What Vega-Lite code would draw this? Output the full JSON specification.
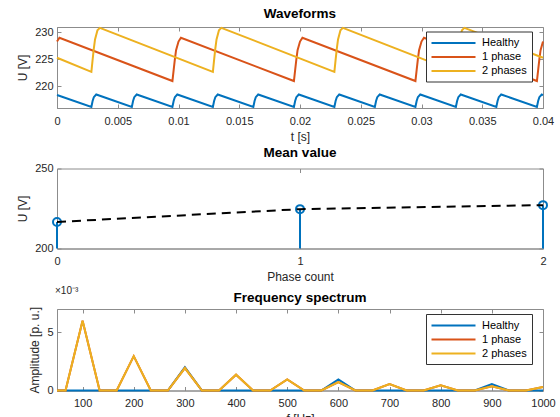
{
  "$schema": "https://vega.github.io/schema/vega-lite/v6.json",
  "padding": {"left": 16, "top": 6, "right": 0, "bottom": 0},
  "bounds": "flush",
  "spacing": 60.5,
  "resolve": {"scale": {"color": "independent"}, "legend": {"color": "independent"}},
  "config": {
    "font": "Liberation Sans",
    "view": {"stroke": "#8c8c8c", "strokeWidth": 1},
    "axis": {"grid": false, "tickSize": -4, "labelPadding": 11, "titlePadding": 5, "labelFontSize": 11, "titleFontSize": 12, "titleFontWeight": "normal", "labelColor": "#262626", "titleColor": "#262626", "domainColor": "#8c8c8c", "tickColor": "#8c8c8c", "labelFlush": false, "labelOverlap": false},
    "axisY": {"labelPadding": 8},
    "title": {"fontSize": 13.5, "fontWeight": "bold", "color": "#000000", "offset": 3},
    "legend": {"labelFontSize": 11, "labelColor": "#000000", "labelAlign": "left", "strokeColor": "#333333", "fillColor": "#ffffff", "padding": 5, "rowPadding": 2}
  },
  "vconcat": [
    {
      "width": 486, "height": 81,
      "title": "Waveforms",
      "data": {"values": [
        {"s":"Healthy","t":0,"U":218.4},
        {"s":"Healthy","t":0.00283,"U":216.2},{"s":"Healthy","t":0.00293,"U":217.3},{"s":"Healthy","t":0.00303,"U":218.0},{"s":"Healthy","t":0.00323,"U":218.5},
        {"s":"Healthy","t":0.00616,"U":216.2},{"s":"Healthy","t":0.00626,"U":217.3},{"s":"Healthy","t":0.00636,"U":218.0},{"s":"Healthy","t":0.00656,"U":218.5},
        {"s":"Healthy","t":0.0095,"U":216.2},{"s":"Healthy","t":0.0096,"U":217.3},{"s":"Healthy","t":0.0097,"U":218.0},{"s":"Healthy","t":0.0099,"U":218.5},
        {"s":"Healthy","t":0.01283,"U":216.2},{"s":"Healthy","t":0.01293,"U":217.3},{"s":"Healthy","t":0.01303,"U":218.0},{"s":"Healthy","t":0.01323,"U":218.5},
        {"s":"Healthy","t":0.01616,"U":216.2},{"s":"Healthy","t":0.01626,"U":217.3},{"s":"Healthy","t":0.01636,"U":218.0},{"s":"Healthy","t":0.01656,"U":218.5},
        {"s":"Healthy","t":0.0195,"U":216.2},{"s":"Healthy","t":0.0196,"U":217.3},{"s":"Healthy","t":0.0197,"U":218.0},{"s":"Healthy","t":0.0199,"U":218.5},
        {"s":"Healthy","t":0.02283,"U":216.2},{"s":"Healthy","t":0.02293,"U":217.3},{"s":"Healthy","t":0.02303,"U":218.0},{"s":"Healthy","t":0.02323,"U":218.5},
        {"s":"Healthy","t":0.02616,"U":216.2},{"s":"Healthy","t":0.02626,"U":217.3},{"s":"Healthy","t":0.02636,"U":218.0},{"s":"Healthy","t":0.02656,"U":218.5},
        {"s":"Healthy","t":0.0295,"U":216.2},{"s":"Healthy","t":0.0296,"U":217.3},{"s":"Healthy","t":0.0297,"U":218.0},{"s":"Healthy","t":0.0299,"U":218.5},
        {"s":"Healthy","t":0.03283,"U":216.2},{"s":"Healthy","t":0.03293,"U":217.3},{"s":"Healthy","t":0.03303,"U":218.0},{"s":"Healthy","t":0.03323,"U":218.5},
        {"s":"Healthy","t":0.03616,"U":216.2},{"s":"Healthy","t":0.03626,"U":217.3},{"s":"Healthy","t":0.03636,"U":218.0},{"s":"Healthy","t":0.03656,"U":218.5},
        {"s":"Healthy","t":0.0395,"U":216.2},{"s":"Healthy","t":0.0396,"U":217.3},{"s":"Healthy","t":0.0397,"U":218.0},{"s":"Healthy","t":0.0399,"U":218.5},
        {"s":"Healthy","t":0.04,"U":218.4},
        {"s":"1 phase","t":0,"U":228.3},{"s":"1 phase","t":0.0002,"U":229.0},
        {"s":"1 phase","t":0.0095,"U":221.0},{"s":"1 phase","t":0.0096,"U":223.0},{"s":"1 phase","t":0.0097,"U":225.0},{"s":"1 phase","t":0.0098,"U":226.7},{"s":"1 phase","t":0.01,"U":228.3},{"s":"1 phase","t":0.0102,"U":229.0},
        {"s":"1 phase","t":0.0195,"U":221.0},{"s":"1 phase","t":0.0196,"U":223.0},{"s":"1 phase","t":0.0197,"U":225.0},{"s":"1 phase","t":0.0198,"U":226.7},{"s":"1 phase","t":0.02,"U":228.3},{"s":"1 phase","t":0.0202,"U":229.0},
        {"s":"1 phase","t":0.0295,"U":221.0},{"s":"1 phase","t":0.0296,"U":223.0},{"s":"1 phase","t":0.0297,"U":225.0},{"s":"1 phase","t":0.0298,"U":226.7},{"s":"1 phase","t":0.03,"U":228.3},{"s":"1 phase","t":0.0302,"U":229.0},
        {"s":"1 phase","t":0.0395,"U":221.0},{"s":"1 phase","t":0.0396,"U":223.0},{"s":"1 phase","t":0.0397,"U":225.0},{"s":"1 phase","t":0.0398,"U":226.7},{"s":"1 phase","t":0.04,"U":228.3},
        {"s":"2 phases","t":0,"U":225.3},
        {"s":"2 phases","t":0.00283,"U":222.7},{"s":"2 phases","t":0.00293,"U":224.9},{"s":"2 phases","t":0.00303,"U":227.0},{"s":"2 phases","t":0.00313,"U":228.7},{"s":"2 phases","t":0.00333,"U":230.4},{"s":"2 phases","t":0.00353,"U":230.85},
        {"s":"2 phases","t":0.01283,"U":222.7},{"s":"2 phases","t":0.01293,"U":224.9},{"s":"2 phases","t":0.01303,"U":227.0},{"s":"2 phases","t":0.01313,"U":228.7},{"s":"2 phases","t":0.01333,"U":230.4},{"s":"2 phases","t":0.01353,"U":230.85},
        {"s":"2 phases","t":0.02283,"U":222.7},{"s":"2 phases","t":0.02293,"U":224.9},{"s":"2 phases","t":0.02303,"U":227.0},{"s":"2 phases","t":0.02313,"U":228.7},{"s":"2 phases","t":0.02333,"U":230.4},{"s":"2 phases","t":0.02353,"U":230.85},
        {"s":"2 phases","t":0.03283,"U":222.7},{"s":"2 phases","t":0.03293,"U":224.9},{"s":"2 phases","t":0.03303,"U":227.0},{"s":"2 phases","t":0.03313,"U":228.7},{"s":"2 phases","t":0.03333,"U":230.4},{"s":"2 phases","t":0.03353,"U":230.85},
        {"s":"2 phases","t":0.04,"U":225.3}
      ]},
      "layer": [
        {
          "mark": {"type": "line", "strokeWidth": 2},
          "encoding": {
            "x": {"field": "t", "type": "quantitative", "scale": {"domain": [0, 0.04], "nice": false}, "axis": {"values": [0, 0.005, 0.01, 0.015, 0.02, 0.025, 0.03, 0.035, 0.04], "format": "~g", "title": "t [s]", "labelOverlap": false}},
            "y": {"field": "U", "type": "quantitative", "scale": {"domain": [216, 231], "nice": false, "zero": false}, "axis": {"values": [220, 225, 230], "title": "U [V]"}},
            "color": {"field": "s", "type": "nominal", "scale": {"domain": ["Healthy", "1 phase", "2 phases"], "range": ["#0072BD", "#D95319", "#EDB120"]}, "legend": {"orient": "none", "legendX": 369, "legendY": 4.5, "title": null, "symbolType": "M-4,0H4", "symbolSize": 121, "symbolStrokeWidth": 2, "symbolOffset": 16, "labelOffset": 22}}
          }
        },
        {
          "mark": {"type": "point", "opacity": 0},
          "encoding": {
            "x": {"field": "t", "type": "quantitative", "axis": {"orient": "top", "values": [0, 0.005, 0.01, 0.015, 0.02, 0.025, 0.03, 0.035, 0.04], "labels": false, "title": null, "domain": false}},
            "y": {"field": "U", "type": "quantitative", "axis": {"orient": "right", "values": [220, 225, 230], "labels": false, "title": null, "domain": false}}
          }
        }
      ],
      "resolve": {"axis": {"x": "independent", "y": "independent"}}
    },
    {
      "width": 486, "height": 80,
      "title": "Mean value",
      "data": {"values": [{"n": 0, "U": 216.6}, {"n": 1, "U": 224.6}, {"n": 2, "U": 227.1}]},
      "layer": [
        {
          "encoding": {
            "x": {"field": "n", "type": "quantitative", "scale": {"domain": [0, 2], "nice": false}, "axis": {"values": [0, 1, 2], "format": "~g", "title": "Phase count", "labelOverlap": false}},
            "y": {"field": "U", "type": "quantitative", "scale": {"domain": [200, 250], "nice": false, "zero": false}, "axis": {"values": [200, 250], "title": "U [V]"}}
          },
          "layer": [
            {"mark": {"type": "rule", "color": "#0072BD", "strokeWidth": 2}, "encoding": {"y2": {"datum": 200}}},
            {"mark": {"type": "point", "shape": "circle", "filled": false, "color": "#0072BD", "strokeWidth": 2, "size": 64, "opacity": 1}},
            {"mark": {"type": "line", "color": "#000000", "strokeWidth": 2, "strokeDash": [9, 6]}}
          ]
        },
        {
          "mark": {"type": "point", "opacity": 0},
          "encoding": {
            "x": {"field": "n", "type": "quantitative", "axis": {"orient": "top", "values": [0, 1, 2], "labels": false, "title": null, "domain": false}},
            "y": {"field": "U", "type": "quantitative", "axis": {"orient": "right", "values": [200, 250], "labels": false, "title": null, "domain": false}}
          }
        }
      ],
      "resolve": {"axis": {"x": "independent", "y": "independent"}}
    },
    {
      "width": 486, "height": 81.5,
      "title": {"text": "Frequency spectrum", "dy": 21},
      "data": {"values": [
        {"s":"Healthy","f":50,"a":0},{"s":"Healthy","f":66.67,"a":0},{"s":"Healthy","f":100,"a":0},{"s":"Healthy","f":133.33,"a":0},{"s":"Healthy","f":166.67,"a":0},{"s":"Healthy","f":200,"a":0},{"s":"Healthy","f":233.33,"a":0},{"s":"Healthy","f":266.67,"a":0},{"s":"Healthy","f":300,"a":0.002},{"s":"Healthy","f":333.33,"a":0},{"s":"Healthy","f":366.67,"a":0},{"s":"Healthy","f":400,"a":0},{"s":"Healthy","f":433.33,"a":0},{"s":"Healthy","f":466.67,"a":0},{"s":"Healthy","f":500,"a":0},{"s":"Healthy","f":533.33,"a":0},{"s":"Healthy","f":566.67,"a":0},{"s":"Healthy","f":600,"a":0.00095},{"s":"Healthy","f":633.33,"a":0},{"s":"Healthy","f":666.67,"a":0},{"s":"Healthy","f":700,"a":0},{"s":"Healthy","f":733.33,"a":0},{"s":"Healthy","f":766.67,"a":0},{"s":"Healthy","f":800,"a":0},{"s":"Healthy","f":833.33,"a":0},{"s":"Healthy","f":866.67,"a":0},{"s":"Healthy","f":900,"a":0.00055},{"s":"Healthy","f":933.33,"a":0},{"s":"Healthy","f":966.67,"a":0},{"s":"Healthy","f":1000,"a":0},
        {"s":"1 phase","f":50,"a":0},{"s":"1 phase","f":66.67,"a":0},{"s":"1 phase","f":100,"a":0.006},{"s":"1 phase","f":133.33,"a":0},{"s":"1 phase","f":166.67,"a":0},{"s":"1 phase","f":200,"a":0.00295},{"s":"1 phase","f":233.33,"a":0},{"s":"1 phase","f":266.67,"a":0},{"s":"1 phase","f":300,"a":0.00193},{"s":"1 phase","f":333.33,"a":0},{"s":"1 phase","f":366.67,"a":0},{"s":"1 phase","f":400,"a":0.00136},{"s":"1 phase","f":433.33,"a":0},{"s":"1 phase","f":466.67,"a":0},{"s":"1 phase","f":500,"a":0.00096},{"s":"1 phase","f":533.33,"a":0},{"s":"1 phase","f":566.67,"a":0},{"s":"1 phase","f":600,"a":0.00073},{"s":"1 phase","f":633.33,"a":0},{"s":"1 phase","f":666.67,"a":0},{"s":"1 phase","f":700,"a":0.00056},{"s":"1 phase","f":733.33,"a":0},{"s":"1 phase","f":766.67,"a":0},{"s":"1 phase","f":800,"a":0.00045},{"s":"1 phase","f":833.33,"a":0},{"s":"1 phase","f":866.67,"a":0},{"s":"1 phase","f":900,"a":0.00036},{"s":"1 phase","f":933.33,"a":0},{"s":"1 phase","f":966.67,"a":0},{"s":"1 phase","f":1000,"a":0.0003},
        {"s":"2 phases","f":50,"a":0},{"s":"2 phases","f":66.67,"a":0},{"s":"2 phases","f":100,"a":0.006},{"s":"2 phases","f":133.33,"a":0},{"s":"2 phases","f":166.67,"a":0},{"s":"2 phases","f":200,"a":0.00295},{"s":"2 phases","f":233.33,"a":0},{"s":"2 phases","f":266.67,"a":0},{"s":"2 phases","f":300,"a":0.00193},{"s":"2 phases","f":333.33,"a":0},{"s":"2 phases","f":366.67,"a":0},{"s":"2 phases","f":400,"a":0.00136},{"s":"2 phases","f":433.33,"a":0},{"s":"2 phases","f":466.67,"a":0},{"s":"2 phases","f":500,"a":0.00096},{"s":"2 phases","f":533.33,"a":0},{"s":"2 phases","f":566.67,"a":0},{"s":"2 phases","f":600,"a":0.00073},{"s":"2 phases","f":633.33,"a":0},{"s":"2 phases","f":666.67,"a":0},{"s":"2 phases","f":700,"a":0.00056},{"s":"2 phases","f":733.33,"a":0},{"s":"2 phases","f":766.67,"a":0},{"s":"2 phases","f":800,"a":0.00045},{"s":"2 phases","f":833.33,"a":0},{"s":"2 phases","f":866.67,"a":0},{"s":"2 phases","f":900,"a":0.00036},{"s":"2 phases","f":933.33,"a":0},{"s":"2 phases","f":966.67,"a":0},{"s":"2 phases","f":1000,"a":0.0003}
      ]},
      "layer": [
        {
          "layer": [
            {
              "mark": {"type": "line", "strokeWidth": 2},
              "encoding": {
                "x": {"field": "f", "type": "quantitative", "scale": {"domain": [50, 1000], "nice": false, "zero": false}, "axis": {"values": [100, 200, 300, 400, 500, 600, 700, 800, 900, 1000], "format": "d", "title": "f [Hz]", "labelOverlap": false}},
                "y": {"field": "a", "type": "quantitative", "scale": {"domain": [0, 0.007], "nice": false}, "axis": {"values": [0, 0.005], "labelExpr": "format(datum.value * 1000, 'd')", "title": "Amplitude [p. u.]"}},
                "color": {"field": "s", "type": "nominal", "scale": {"domain": ["Healthy", "1 phase", "2 phases"], "range": ["#0072BD", "#D95319", "#EDB120"]}, "legend": {"orient": "none", "legendX": 369, "legendY": 5, "title": null, "symbolType": "M-4,0H4", "symbolSize": 121, "symbolStrokeWidth": 2, "symbolOffset": 16, "labelOffset": 22}}
              }
            },
            {
              "data": {"values": [{"lbl": "×10⁻³"}]},
              "mark": {"type": "text", "align": "left", "baseline": "alphabetic", "dx": -2, "dy": -15, "fontSize": 10, "color": "#262626"},
              "encoding": {
                "text": {"field": "lbl"},
                "x": {"datum": 50},
                "y": {"datum": 0.007}
              }
            }
          ]
        },
        {
          "mark": {"type": "point", "opacity": 0},
          "encoding": {
            "x": {"field": "f", "type": "quantitative", "axis": {"orient": "top", "values": [100, 200, 300, 400, 500, 600, 700, 800, 900, 1000], "labels": false, "title": null, "domain": false}},
            "y": {"field": "a", "type": "quantitative", "axis": {"orient": "right", "values": [0, 0.005], "labels": false, "title": null, "domain": false}}
          }
        }
      ],
      "resolve": {"axis": {"x": "independent", "y": "independent"}}
    }
  ]
}
